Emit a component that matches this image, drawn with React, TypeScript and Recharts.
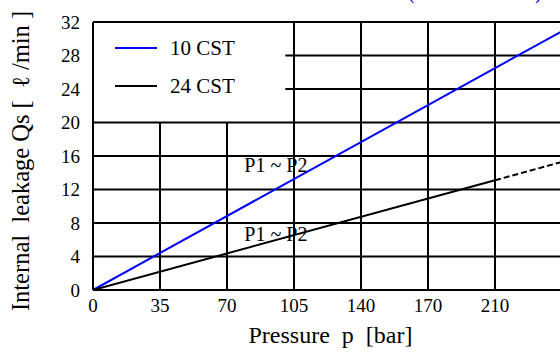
import React from 'react';
import { LineChart, Line, XAxis, YAxis, ReferenceLine, ReferenceDot, Legend, Label } from 'recharts';

const pressureTicks = ['0', '35', '70', '105', '140', '170', '210'];
const leakageTicks = [0, 4, 8, 12, 16, 20, 24, 28, 32];

// readings along the (evenly spaced) pressure grid index
const gridIndex = [0, 6, 7];
const cst10 = [0, 26.5, 30.9];
const cst24 = [0, 13.1, null];
const cst24Extended = [null, 13.1, 15.3];

// grid lines, the top-left corner is kept clear for the legend
const verticalFull = [3, 4, 5, 6];
const verticalShort = [1, 2];
const horizontalFull = [4, 8, 12, 16, 20, 32];
const horizontalShort = [24, 28];

const FONT = "'Liberation Serif', 'Times New Roman', serif";

const data = gridIndex.map((x, i) => ({
  x,
  cst10: cst10[i],
  cst24: cst24[i],
  cst24Extended: cst24Extended[i],
}));

const legendItems = [
  { label: '10 CST', color: '#0000ff' },
  { label: '24 CST', color: '#000000' },
];

const LegendBox = () => (
  <div style={{ fontFamily: FONT, fontSize: 21, color: '#000' }}>
    {legendItems.map((item) => (
      <div key={item.label} style={{ display: 'flex', alignItems: 'center', height: 38 }}>
        <div style={{ width: 42, height: 2, background: item.color, marginRight: 13 }} />
        <span>{item.label}</span>
      </div>
    ))}
  </div>
);

const App: React.FC = () => {
  return (
    <div style={{ position: 'absolute', left: 0, top: 0 }}>
      <LineChart width={560} height={352} data={data} margin={{ top: 22, right: -2, left: 0, bottom: 0 }}>
        <XAxis
          type="number"
          dataKey="x"
          domain={[0, 7]}
          ticks={[0, 1, 2, 3, 4, 5, 6]}
          tickFormatter={(i: number) => pressureTicks[i]}
          allowDataOverflow
          height={62}
          tickLine={false}
          tickSize={0}
          tickMargin={9}
          axisLine={{ stroke: '#000', strokeWidth: 2 }}
          tick={{ fill: '#000', fontSize: 19, fontFamily: FONT }}
        >
          <Label
            value={'Pressure\u00a0\u00a0p\u00a0\u00a0[bar]'}
            position="insideBottom"
            offset={9}
            dx={3}
            style={{ fill: '#000', fontSize: 24, fontFamily: FONT }}
          />
        </XAxis>
        <YAxis
          type="number"
          domain={[0, 32]}
          ticks={leakageTicks}
          width={93}
          tickLine={false}
          tickSize={0}
          tickMargin={13}
          axisLine={{ stroke: '#000', strokeWidth: 2 }}
          tick={{ fill: '#000', fontSize: 19, fontFamily: FONT }}
        >
          <Label
            value={'Internal\u00a0\u00a0leakage Qs [\u00a0\u00a0\u2113 /min ]'}
            angle={-90}
            position="insideLeft"
            offset={20}
            dy={5}
            textAnchor="middle"
            style={{ fill: '#000', fontSize: 24.5, fontFamily: FONT, textAnchor: 'middle' }}
          />
        </YAxis>

        {verticalFull.map((x) => (
          <ReferenceLine key={`v${x}`} x={x} stroke="#000" strokeWidth={2} />
        ))}
        {verticalShort.map((x) => (
          <ReferenceLine key={`vs${x}`} segment={[{ x, y: 0 }, { x, y: 20 }]} stroke="#000" strokeWidth={2} />
        ))}
        {horizontalFull.map((y) => (
          <ReferenceLine key={`h${y}`} y={y} stroke="#000" strokeWidth={2} />
        ))}
        {horizontalShort.map((y) => (
          <ReferenceLine key={`hs${y}`} segment={[{ x: 2.87, y }, { x: 7, y }]} stroke="#000" strokeWidth={2} />
        ))}

        <ReferenceDot x={2.73} y={14.9} r={0} fill="none" stroke="none">
          <Label value="P1 ~ P2" position="center" style={{ fill: '#000', fontSize: 20, fontFamily: FONT }} />
        </ReferenceDot>
        <ReferenceDot x={2.73} y={6.7} r={0} fill="none" stroke="none">
          <Label value="P1 ~ P2" position="center" style={{ fill: '#000', fontSize: 20, fontFamily: FONT }} />
        </ReferenceDot>

        <Line
          type="linear"
          dataKey="cst10"
          stroke="#0000ff"
          strokeWidth={2}
          dot={false}
          connectNulls
          isAnimationActive={false}
        />
        <Line
          type="linear"
          dataKey="cst24"
          stroke="#000"
          strokeWidth={2}
          dot={false}
          isAnimationActive={false}
        />
        <Line
          type="linear"
          dataKey="cst24Extended"
          stroke="#000"
          strokeWidth={2}
          strokeDasharray="6 3"
          dot={false}
          isAnimationActive={false}
        />

        <Legend
          layout="vertical"
          align="center"
          verticalAlign="middle"
          content={<LegendBox />}
          wrapperStyle={{ left: 115, top: 29, width: 'auto' }}
        />

        <text x={408} y={-1} fill="#0000ff" fontSize={20} fontFamily={FONT}>(</text>
        <text x={535} y={-1} fill="#0000ff" fontSize={20} fontFamily={FONT}>)</text>
      </LineChart>
    </div>
  );
};

export default App;
